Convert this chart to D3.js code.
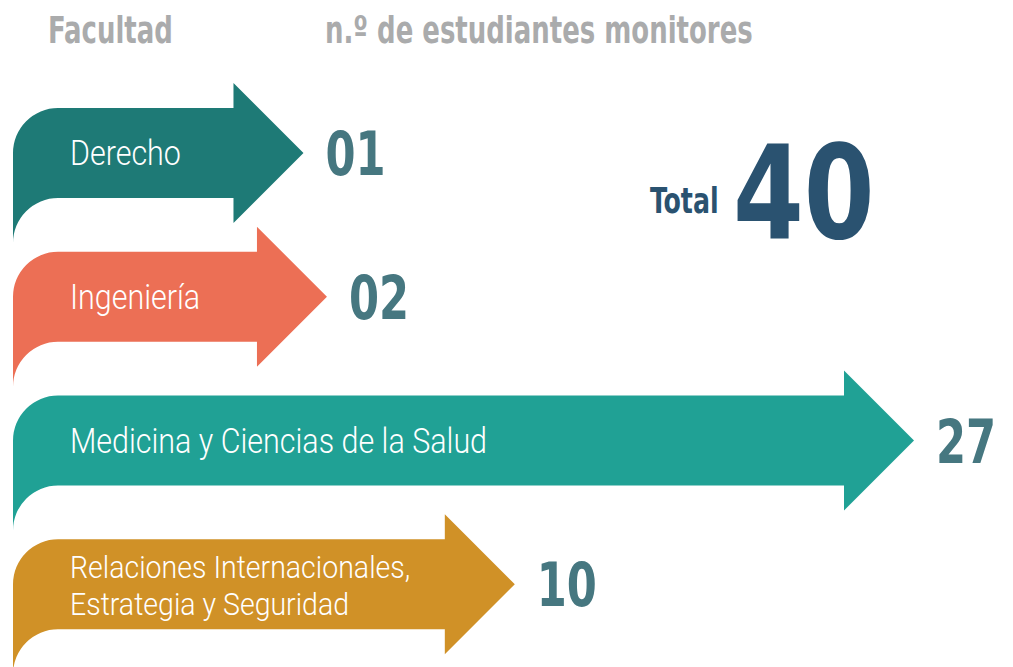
<!DOCTYPE html>
<html>
<head>
<meta charset="utf-8">
<script src="https://cdn.jsdelivr.net/npm/d3@7"></script>
<style>
  html, body { margin: 0; padding: 0; background: #fff; }
  .bold { font-family: 'Liberation Sans Narrow', 'DejaVu Sans Condensed', 'DejaVu Sans', sans-serif; font-weight: bold; }
  .light { font-family: Roboto, 'Open Sans', sans-serif; font-weight: 300; fill: #fff; }
</style>
</head>
<body>
<svg id="chart" width="1013" height="667"></svg>
<script>
// faculties and how many student monitors each one has
const categories = ['Derecho', 'Ingeniería', 'Medicina y Ciencias de la Salud', 'Relaciones Internacionales,\nEstrategia y Seguridad'];
const values = [1, 2, 27, 10];
const colors = ['#1e7a76', '#ec6f55', '#20a195', '#d09127'];
const headers = ['Facultad', 'n.º de estudiantes monitores'];
const totalLabel = 'Total';

const W = 1013, H = 667;
const svg = d3.select('#chart');

// arrow geometry
const left = 13, bodyH = 90, headOut = 25, headLen = 70, r = 45;

// x scale gives where the arrow head starts, y band gives the top of each arrow body
const x = d3.scaleLinear().domain([0, d3.max(values)]).range([210, 844]);
const y = d3.scaleBand().domain(categories).range([108, 683]);

const arrow = (v, c) => {
  const top = y(c), hx = x(v), bot = top + bodyH;
  const p = d3.path();
  p.moveTo(left, top + r);
  p.arcTo(left, top, left + r, top, r);
  p.lineTo(hx, top);
  p.lineTo(hx, top - headOut);
  p.lineTo(hx + headLen, top + bodyH / 2);
  p.lineTo(hx, bot + headOut);
  p.lineTo(hx, bot);
  p.lineTo(left + r, bot);
  p.arcTo(left, bot, left, bot + r, r);
  p.closePath();
  return p.toString();
};

// text squeezed sideways, the fonts we have are too wide
const squeezed = (sel, px, py, sx) => sel.attr('transform', `translate(${px},${py}) scale(${sx},1)`);

const rows = svg.selectAll('g.row')
  .data(categories.map((c, i) => ({ c, v: values[i], col: colors[i] })))
  .enter()
  .append('g')
  .attr('class', 'row');

rows.append('path')
  .attr('d', (d) => arrow(d.v, d.c))
  .attr('fill', (d) => d.col);

// faculty name inside the arrow (one text per line)
rows.each(function (d) {
  const lines = d.c.split('\n');
  const mid = y(d.c) + bodyH / 2;
  const lh = 37;
  const first = mid + 12 - (lines.length - 1) * lh / 2;
  lines.forEach((l, j) => {
    d3.select(this).append('text')
      .attr('class', 'light')
      .attr('font-size', lines.length > 1 ? 31 : 35)
      .call(squeezed, 70, first + j * lh, lines.length > 1 ? 0.92 : 0.87)
      .text(l);
  });
});

// the count next to the head
rows.append('text')
  .attr('class', 'bold')
  .attr('font-size', 60)
  .attr('fill', '#467780')
  .each(function (d) {
    d3.select(this).call(squeezed, x(d.v) + headLen + 22, y(d.c) + bodyH / 2 + 22, 0.8);
  })
  .text((d) => d3.format('02d')(d.v));

// column headers
svg.selectAll('text.head')
  .data(headers)
  .enter()
  .append('text')
  .attr('class', 'bold head')
  .attr('font-size', 38)
  .attr('fill', '#aaabac')
  .each(function (d, i) {
    d3.select(this).call(squeezed, [48, 325][i], 43, 0.76);
  })
  .text((d) => d);

// total
svg.append('text')
  .attr('class', 'bold')
  .attr('font-size', 36)
  .attr('fill', '#2a5270')
  .call(squeezed, 650, 213, 0.78)
  .text(totalLabel);

svg.append('text')
  .attr('class', 'bold')
  .attr('font-size', 130)
  .attr('fill', '#2a5270')
  .call(squeezed, 733, 238, 0.87)
  .text(d3.sum(values));
</script>
</body>
</html>
